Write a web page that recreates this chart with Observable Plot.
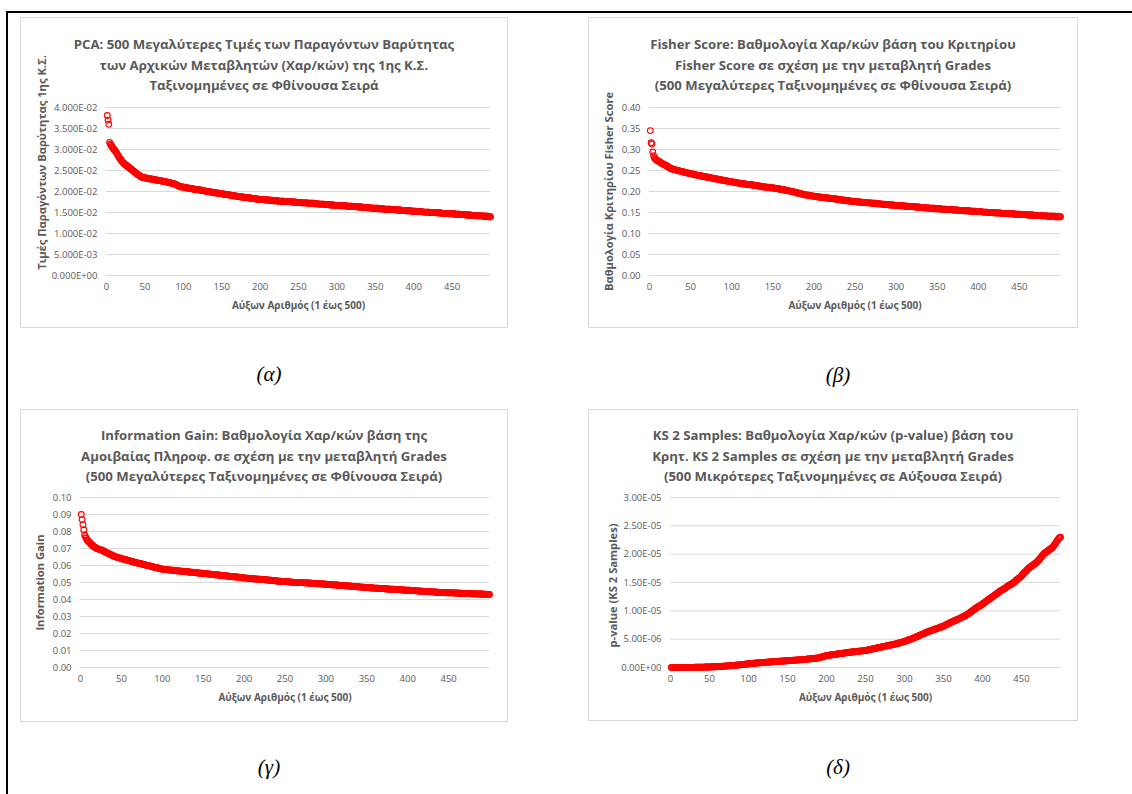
<!DOCTYPE html>
<html><head><meta charset="utf-8">
<script src="https://cdn.jsdelivr.net/npm/d3@7"></script>
<script src="https://cdn.jsdelivr.net/npm/@observablehq/plot@0.6"></script>
<style>
html,body{margin:0;padding:0;background:#fff;}
#page{position:relative;width:1132px;height:794px;overflow:hidden;font-family:"Open Sans","Noto Sans",sans-serif;}
.rule{position:absolute;background:#000;}
.panel{position:absolute;border:1px solid #d9d9d9;box-sizing:border-box;}
.title{position:absolute;text-align:center;font-weight:bold;color:#595959;font-size:13.2px;line-height:20.5px;white-space:nowrap;}
.cap{position:absolute;font-family:"Liberation Serif","Times New Roman",serif;font-style:italic;font-size:21px;color:#000;text-align:center;width:80px;line-height:24px;}
.plot{position:absolute;}
</style></head><body><div id="page"></div>
<script>
// ---------- data ----------
const xTicks = [0, 50, 100, 150, 200, 250, 300, 350, 400, 450];
const xLabel = "Αύξων Αριθμός (1 έως 500)";

const pcaTicks = [0, 0.005, 0.01, 0.015, 0.02, 0.025, 0.03, 0.035, 0.04];
const pcaTickLabels = ["0.000E+00","5.000E-03","1.000E-02","1.500E-02","2.000E-02","2.500E-02","3.000E-02","3.500E-02","4.000E-02"];
const fisherTicks = [0, 0.05, 0.10, 0.15, 0.20, 0.25, 0.30, 0.35, 0.40];
const fisherTickLabels = ["0.00","0.05","0.10","0.15","0.20","0.25","0.30","0.35","0.40"];
const igTicks = [0, 0.01, 0.02, 0.03, 0.04, 0.05, 0.06, 0.07, 0.08, 0.09, 0.10];
const igTickLabels = ["0.00","0.01","0.02","0.03","0.04","0.05","0.06","0.07","0.08","0.09","0.10"];
const ksTicks = [0, 5e-6, 1e-5, 1.5e-5, 2e-5, 2.5e-5, 3e-5];
const ksTickLabels = ["0.00E+00","5.00E-06","1.00E-05","1.50E-05","2.00E-05","2.50E-05","3.00E-05"];

const pcaTitle = ["PCA: 500 Μεγαλύτερες Τιμές των Παραγόντων Βαρύτητας", "των Αρχικών Μεταβλητών (Χαρ/κών) της 1ης Κ.Σ.", "Ταξινομημένες σε Φθίνουσα Σειρά"];
const fisherTitle = ["Fisher Score: Βαθμολογία Χαρ/κών βάση του Κριτηρίου", "Fisher Score σε σχέση με την μεταβλητή Grades", "(500 Μεγαλύτερες Ταξινομημένες σε Φθίνουσα Σειρά)"];
const igTitle = ["Information Gain: Βαθμολογία Χαρ/κών βάση της", "Αμοιβαίας Πληροφ. σε σχέση με την μεταβλητή Grades", "(500 Μεγαλύτερες Ταξινομημένες σε Φθίνουσα Σειρά)"];
const ksTitle = ["KS 2 Samples: Βαθμολογία Χαρ/κών (p-value) βάση του", "Κρητ. KS 2 Samples σε σχέση με την μεταβλητή Grades", "(500 Μικρότερες Ταξινομημένες σε Αύξουσα Σειρά)"];
const yLabels = ["Τιμές Παραγόντων Βαρύτητας 1ης Κ.Σ.", "Βαθμολογία Κριτηρίου Fisher Score", "Information Gain", "p-value (KS 2 Samples)"];
const captions = ["(α)", "(β)", "(γ)", "(δ)"];

// values for index 1..500
const pcaValues = [
0.0381,0.0370,0.0360,0.0317,0.0313,0.0310,0.0307,0.0304,0.0302,0.0300,
0.0297,0.0295,0.0292,0.0289,0.0286,0.0283,0.0280,0.0277,0.0275,0.0272,
0.0270,0.0268,0.0266,0.0265,0.0263,0.0262,0.0260,0.0259,0.0258,0.0256,
0.0255,0.0253,0.0252,0.0250,0.0249,0.0247,0.0246,0.0244,0.0243,0.0241,
0.0240,0.0239,0.0238,0.0236,0.0235,0.0234,0.0234,0.0233,0.0233,0.0232,
0.0232,0.0232,0.0231,0.0231,0.0231,0.0230,0.0230,0.0230,0.0229,0.0229,
0.0229,0.0228,0.0228,0.0228,0.0227,0.0227,0.0227,0.0226,0.0226,0.0226,
0.0225,0.0225,0.0225,0.0224,0.0224,0.0224,0.0223,0.0223,0.0222,0.0222,
0.0222,0.0221,0.0221,0.0220,0.0220,0.0219,0.0219,0.0218,0.0218,0.0217,
0.0216,0.0215,0.0214,0.0213,0.0212,0.0212,0.0211,0.0211,0.0211,0.0210,
0.0210,0.0210,0.0209,0.0209,0.0209,0.0208,0.0208,0.0208,0.0207,0.0207,
0.0207,0.0206,0.0206,0.0206,0.0205,0.0205,0.0205,0.0205,0.0204,0.0204,
0.0204,0.0203,0.0203,0.0203,0.0202,0.0202,0.0202,0.0201,0.0201,0.0201,
0.0200,0.0200,0.0200,0.0199,0.0199,0.0199,0.0199,0.0198,0.0198,0.0198,
0.0197,0.0197,0.0197,0.0196,0.0196,0.0196,0.0196,0.0195,0.0195,0.0195,
0.0194,0.0194,0.0194,0.0193,0.0193,0.0193,0.0193,0.0192,0.0192,0.0192,
0.0191,0.0191,0.0191,0.0190,0.0190,0.0190,0.0190,0.0189,0.0189,0.0189,
0.0188,0.0188,0.0188,0.0188,0.0187,0.0187,0.0187,0.0187,0.0186,0.0186,
0.0186,0.0186,0.0185,0.0185,0.0185,0.0185,0.0184,0.0184,0.0184,0.0184,
0.0183,0.0183,0.0183,0.0182,0.0182,0.0182,0.0182,0.0181,0.0181,0.0181,
0.0181,0.0181,0.0181,0.0181,0.0181,0.0180,0.0180,0.0180,0.0180,0.0180,
0.0180,0.0179,0.0179,0.0179,0.0179,0.0179,0.0178,0.0178,0.0178,0.0178,
0.0178,0.0178,0.0178,0.0177,0.0177,0.0177,0.0177,0.0177,0.0177,0.0177,
0.0177,0.0176,0.0176,0.0176,0.0176,0.0176,0.0176,0.0176,0.0176,0.0176,
0.0175,0.0175,0.0175,0.0175,0.0175,0.0175,0.0174,0.0174,0.0174,0.0174,
0.0174,0.0174,0.0174,0.0173,0.0173,0.0173,0.0173,0.0173,0.0173,0.0173,
0.0173,0.0172,0.0172,0.0172,0.0172,0.0172,0.0172,0.0172,0.0172,0.0172,
0.0171,0.0171,0.0171,0.0171,0.0171,0.0170,0.0170,0.0170,0.0170,0.0170,
0.0170,0.0170,0.0170,0.0169,0.0169,0.0169,0.0169,0.0169,0.0169,0.0169,
0.0168,0.0168,0.0168,0.0168,0.0168,0.0168,0.0167,0.0167,0.0167,0.0167,
0.0167,0.0167,0.0167,0.0167,0.0166,0.0166,0.0166,0.0166,0.0166,0.0166,
0.0166,0.0166,0.0165,0.0165,0.0165,0.0165,0.0165,0.0165,0.0165,0.0165,
0.0164,0.0164,0.0164,0.0164,0.0164,0.0164,0.0163,0.0163,0.0163,0.0163,
0.0163,0.0163,0.0163,0.0162,0.0162,0.0162,0.0162,0.0162,0.0162,0.0162,
0.0161,0.0161,0.0161,0.0161,0.0161,0.0160,0.0160,0.0160,0.0160,0.0160,
0.0160,0.0160,0.0160,0.0159,0.0159,0.0159,0.0159,0.0159,0.0159,0.0159,
0.0158,0.0158,0.0158,0.0158,0.0158,0.0158,0.0158,0.0158,0.0158,0.0158,
0.0157,0.0157,0.0157,0.0157,0.0157,0.0157,0.0156,0.0156,0.0156,0.0156,
0.0156,0.0156,0.0156,0.0155,0.0155,0.0155,0.0155,0.0155,0.0155,0.0155,
0.0154,0.0154,0.0154,0.0154,0.0154,0.0154,0.0153,0.0153,0.0153,0.0153,
0.0153,0.0153,0.0153,0.0152,0.0152,0.0152,0.0152,0.0152,0.0152,0.0152,
0.0152,0.0151,0.0151,0.0151,0.0151,0.0151,0.0151,0.0151,0.0151,0.0151,
0.0150,0.0150,0.0150,0.0150,0.0150,0.0150,0.0150,0.0150,0.0150,0.0150,
0.0149,0.0149,0.0149,0.0149,0.0149,0.0149,0.0148,0.0148,0.0148,0.0148,
0.0148,0.0148,0.0148,0.0148,0.0148,0.0147,0.0147,0.0147,0.0147,0.0147,
0.0147,0.0147,0.0147,0.0146,0.0146,0.0146,0.0146,0.0146,0.0146,0.0146,
0.0145,0.0145,0.0145,0.0145,0.0145,0.0145,0.0145,0.0144,0.0144,0.0144,
0.0144,0.0144,0.0144,0.0144,0.0143,0.0143,0.0143,0.0143,0.0143,0.0143,
0.0143,0.0142,0.0142,0.0142,0.0142,0.0142,0.0142,0.0142,0.0142,0.0142,
0.0141,0.0141,0.0141,0.0141,0.0141,0.0141,0.0140,0.0140,0.0140,0.0140
];

const fisherValues = [
0.345,0.316,0.313,0.294,0.285,0.280,0.278,0.276,0.274,0.273,
0.272,0.271,0.270,0.268,0.267,0.266,0.265,0.264,0.263,0.262,
0.261,0.260,0.258,0.257,0.256,0.255,0.254,0.253,0.253,0.252,
0.252,0.251,0.251,0.250,0.250,0.249,0.249,0.248,0.248,0.247,
0.247,0.246,0.246,0.245,0.245,0.244,0.244,0.243,0.243,0.242,
0.242,0.242,0.241,0.241,0.240,0.240,0.239,0.239,0.238,0.238,
0.238,0.237,0.237,0.237,0.236,0.236,0.235,0.235,0.235,0.234,
0.234,0.233,0.233,0.233,0.232,0.232,0.231,0.231,0.231,0.230,
0.230,0.230,0.229,0.229,0.228,0.228,0.228,0.227,0.227,0.227,
0.226,0.226,0.226,0.225,0.225,0.224,0.224,0.224,0.223,0.223,
0.223,0.222,0.222,0.222,0.221,0.221,0.221,0.220,0.220,0.220,
0.219,0.219,0.219,0.218,0.218,0.218,0.218,0.217,0.217,0.217,
0.217,0.216,0.216,0.216,0.216,0.215,0.215,0.215,0.214,0.214,
0.214,0.213,0.213,0.213,0.212,0.212,0.212,0.211,0.211,0.211,
0.211,0.210,0.210,0.210,0.210,0.209,0.209,0.209,0.209,0.209,
0.208,0.208,0.208,0.207,0.207,0.207,0.206,0.206,0.206,0.205,
0.205,0.205,0.204,0.204,0.203,0.203,0.203,0.202,0.202,0.201,
0.201,0.201,0.200,0.200,0.199,0.199,0.198,0.198,0.197,0.197,
0.196,0.196,0.195,0.195,0.194,0.194,0.193,0.193,0.192,0.192,
0.192,0.191,0.191,0.191,0.190,0.190,0.190,0.189,0.189,0.189,
0.189,0.188,0.188,0.188,0.187,0.187,0.187,0.187,0.186,0.186,
0.186,0.186,0.185,0.185,0.185,0.185,0.184,0.184,0.184,0.184,
0.183,0.183,0.183,0.183,0.182,0.182,0.182,0.182,0.181,0.181,
0.181,0.180,0.180,0.180,0.180,0.179,0.179,0.179,0.179,0.178,
0.178,0.178,0.178,0.177,0.177,0.177,0.177,0.176,0.176,0.176,
0.176,0.176,0.175,0.175,0.175,0.175,0.175,0.174,0.174,0.174,
0.174,0.174,0.174,0.173,0.173,0.173,0.173,0.173,0.173,0.172,
0.172,0.172,0.172,0.172,0.172,0.171,0.171,0.171,0.171,0.171,
0.170,0.170,0.170,0.170,0.170,0.169,0.169,0.169,0.169,0.169,
0.169,0.168,0.168,0.168,0.168,0.168,0.168,0.167,0.167,0.167,
0.167,0.167,0.167,0.166,0.166,0.166,0.166,0.166,0.166,0.165,
0.165,0.165,0.165,0.165,0.165,0.164,0.164,0.164,0.164,0.164,
0.164,0.164,0.163,0.163,0.163,0.163,0.163,0.163,0.162,0.162,
0.162,0.162,0.162,0.162,0.161,0.161,0.161,0.161,0.161,0.161,
0.160,0.160,0.160,0.160,0.160,0.160,0.160,0.159,0.159,0.159,
0.159,0.159,0.159,0.159,0.158,0.158,0.158,0.158,0.158,0.158,
0.158,0.157,0.157,0.157,0.157,0.157,0.157,0.157,0.156,0.156,
0.156,0.156,0.156,0.156,0.156,0.155,0.155,0.155,0.155,0.155,
0.155,0.155,0.154,0.154,0.154,0.154,0.154,0.154,0.154,0.153,
0.153,0.153,0.153,0.153,0.153,0.153,0.152,0.152,0.152,0.152,
0.152,0.152,0.152,0.152,0.151,0.151,0.151,0.151,0.151,0.151,
0.151,0.150,0.150,0.150,0.150,0.150,0.150,0.150,0.150,0.149,
0.149,0.149,0.149,0.149,0.149,0.149,0.149,0.148,0.148,0.148,
0.148,0.148,0.148,0.148,0.148,0.147,0.147,0.147,0.147,0.147,
0.147,0.147,0.147,0.146,0.146,0.146,0.146,0.146,0.146,0.146,
0.146,0.145,0.145,0.145,0.145,0.145,0.145,0.145,0.145,0.144,
0.144,0.144,0.144,0.144,0.144,0.144,0.144,0.143,0.143,0.143,
0.143,0.143,0.143,0.143,0.143,0.142,0.142,0.142,0.142,0.142,
0.142,0.142,0.142,0.141,0.141,0.141,0.141,0.141,0.141,0.141,
0.141,0.141,0.140,0.140,0.140,0.140,0.140,0.140,0.140,0.140
];

const igValues = [
0.0900,0.0870,0.0840,0.0810,0.0780,0.0770,0.0760,0.0750,0.0745,0.0740,
0.0735,0.0730,0.0726,0.0722,0.0715,0.0712,0.0709,0.0706,0.0703,0.0700,
0.0698,0.0697,0.0695,0.0694,0.0692,0.0690,0.0688,0.0686,0.0683,0.0680,
0.0678,0.0675,0.0673,0.0671,0.0668,0.0666,0.0664,0.0662,0.0659,0.0657,
0.0655,0.0653,0.0651,0.0650,0.0648,0.0647,0.0645,0.0644,0.0642,0.0640,
0.0639,0.0638,0.0637,0.0635,0.0634,0.0633,0.0632,0.0630,0.0629,0.0627,
0.0626,0.0625,0.0623,0.0622,0.0621,0.0620,0.0618,0.0617,0.0616,0.0614,
0.0613,0.0612,0.0611,0.0610,0.0609,0.0607,0.0606,0.0605,0.0604,0.0602,
0.0601,0.0600,0.0599,0.0598,0.0597,0.0596,0.0594,0.0593,0.0592,0.0590,
0.0589,0.0588,0.0587,0.0586,0.0585,0.0584,0.0582,0.0581,0.0580,0.0578,
0.0578,0.0577,0.0577,0.0576,0.0576,0.0575,0.0575,0.0574,0.0574,0.0573,
0.0573,0.0572,0.0572,0.0571,0.0571,0.0570,0.0570,0.0569,0.0569,0.0568,
0.0568,0.0567,0.0567,0.0566,0.0565,0.0565,0.0565,0.0564,0.0564,0.0563,
0.0563,0.0562,0.0562,0.0561,0.0561,0.0560,0.0560,0.0559,0.0559,0.0558,
0.0558,0.0557,0.0557,0.0556,0.0556,0.0555,0.0555,0.0554,0.0554,0.0553,
0.0553,0.0552,0.0552,0.0551,0.0551,0.0550,0.0550,0.0549,0.0549,0.0548,
0.0548,0.0547,0.0547,0.0546,0.0546,0.0545,0.0545,0.0544,0.0544,0.0543,
0.0543,0.0542,0.0542,0.0541,0.0540,0.0540,0.0539,0.0539,0.0538,0.0538,
0.0537,0.0537,0.0536,0.0536,0.0535,0.0535,0.0534,0.0534,0.0533,0.0533,
0.0532,0.0532,0.0531,0.0531,0.0530,0.0530,0.0529,0.0528,0.0528,0.0527,
0.0527,0.0526,0.0526,0.0525,0.0525,0.0524,0.0524,0.0523,0.0523,0.0523,
0.0522,0.0522,0.0521,0.0521,0.0521,0.0520,0.0520,0.0519,0.0519,0.0519,
0.0518,0.0518,0.0518,0.0517,0.0517,0.0516,0.0516,0.0515,0.0515,0.0514,
0.0514,0.0513,0.0513,0.0512,0.0512,0.0511,0.0511,0.0510,0.0510,0.0509,
0.0509,0.0508,0.0508,0.0507,0.0507,0.0506,0.0506,0.0506,0.0505,0.0505,
0.0505,0.0504,0.0504,0.0504,0.0503,0.0503,0.0503,0.0502,0.0502,0.0502,
0.0501,0.0501,0.0501,0.0501,0.0500,0.0500,0.0500,0.0500,0.0499,0.0499,
0.0499,0.0499,0.0498,0.0498,0.0498,0.0498,0.0497,0.0497,0.0497,0.0497,
0.0496,0.0496,0.0496,0.0495,0.0495,0.0495,0.0494,0.0494,0.0494,0.0493,
0.0493,0.0493,0.0492,0.0492,0.0492,0.0491,0.0491,0.0491,0.0490,0.0490,
0.0490,0.0489,0.0489,0.0489,0.0488,0.0488,0.0487,0.0487,0.0487,0.0486,
0.0486,0.0486,0.0485,0.0485,0.0484,0.0484,0.0484,0.0483,0.0483,0.0483,
0.0482,0.0482,0.0481,0.0481,0.0480,0.0480,0.0480,0.0479,0.0479,0.0478,
0.0478,0.0478,0.0477,0.0477,0.0476,0.0476,0.0476,0.0475,0.0475,0.0474,
0.0474,0.0474,0.0473,0.0473,0.0472,0.0472,0.0472,0.0471,0.0471,0.0470,
0.0470,0.0470,0.0469,0.0469,0.0469,0.0468,0.0468,0.0468,0.0467,0.0467,
0.0467,0.0466,0.0466,0.0466,0.0465,0.0465,0.0465,0.0464,0.0464,0.0464,
0.0464,0.0463,0.0463,0.0463,0.0462,0.0462,0.0462,0.0461,0.0461,0.0461,
0.0460,0.0460,0.0460,0.0459,0.0459,0.0459,0.0458,0.0458,0.0458,0.0457,
0.0457,0.0457,0.0456,0.0456,0.0456,0.0456,0.0455,0.0455,0.0455,0.0455,
0.0454,0.0454,0.0454,0.0453,0.0453,0.0453,0.0452,0.0452,0.0452,0.0451,
0.0451,0.0451,0.0450,0.0450,0.0450,0.0449,0.0449,0.0449,0.0449,0.0448,
0.0448,0.0448,0.0447,0.0447,0.0447,0.0446,0.0446,0.0446,0.0445,0.0445,
0.0445,0.0444,0.0444,0.0444,0.0443,0.0443,0.0443,0.0443,0.0442,0.0442,
0.0442,0.0442,0.0441,0.0441,0.0441,0.0441,0.0440,0.0440,0.0440,0.0440,
0.0440,0.0439,0.0439,0.0439,0.0439,0.0439,0.0438,0.0438,0.0438,0.0438,
0.0438,0.0437,0.0437,0.0437,0.0437,0.0437,0.0436,0.0436,0.0436,0.0436,
0.0436,0.0435,0.0435,0.0435,0.0435,0.0435,0.0434,0.0434,0.0434,0.0434,
0.0434,0.0433,0.0433,0.0433,0.0433,0.0433,0.0432,0.0432,0.0432,0.0432,
0.0432,0.0431,0.0431,0.0431,0.0431,0.0431,0.0430,0.0430,0.0430,0.0430
];

const ksValues = [
0.01e-6,0.01e-6,0.01e-6,0.01e-6,0.01e-6,0.01e-6,0.01e-6,0.01e-6,0.01e-6,0.01e-6,
0.01e-6,0.01e-6,0.01e-6,0.01e-6,0.01e-6,0.02e-6,0.02e-6,0.02e-6,0.02e-6,0.02e-6,
0.02e-6,0.02e-6,0.02e-6,0.02e-6,0.03e-6,0.03e-6,0.03e-6,0.03e-6,0.03e-6,0.03e-6,
0.04e-6,0.04e-6,0.04e-6,0.04e-6,0.05e-6,0.05e-6,0.05e-6,0.06e-6,0.06e-6,0.06e-6,
0.07e-6,0.07e-6,0.07e-6,0.08e-6,0.08e-6,0.08e-6,0.09e-6,0.09e-6,0.10e-6,0.10e-6,
0.10e-6,0.11e-6,0.11e-6,0.12e-6,0.12e-6,0.13e-6,0.13e-6,0.14e-6,0.14e-6,0.15e-6,
0.16e-6,0.17e-6,0.18e-6,0.19e-6,0.20e-6,0.21e-6,0.22e-6,0.23e-6,0.24e-6,0.25e-6,
0.26e-6,0.27e-6,0.28e-6,0.29e-6,0.30e-6,0.31e-6,0.32e-6,0.33e-6,0.34e-6,0.35e-6,
0.36e-6,0.38e-6,0.39e-6,0.41e-6,0.42e-6,0.44e-6,0.45e-6,0.47e-6,0.48e-6,0.50e-6,
0.51e-6,0.53e-6,0.54e-6,0.56e-6,0.57e-6,0.59e-6,0.60e-6,0.62e-6,0.63e-6,0.65e-6,
0.66e-6,0.68e-6,0.69e-6,0.71e-6,0.72e-6,0.74e-6,0.75e-6,0.77e-6,0.78e-6,0.80e-6,
0.81e-6,0.82e-6,0.83e-6,0.84e-6,0.85e-6,0.86e-6,0.87e-6,0.88e-6,0.89e-6,0.90e-6,
0.91e-6,0.92e-6,0.93e-6,0.94e-6,0.95e-6,0.96e-6,0.97e-6,0.98e-6,0.99e-6,1.00e-6,
1.01e-6,1.02e-6,1.03e-6,1.04e-6,1.05e-6,1.06e-6,1.07e-6,1.08e-6,1.09e-6,1.10e-6,
1.11e-6,1.12e-6,1.13e-6,1.14e-6,1.15e-6,1.16e-6,1.17e-6,1.18e-6,1.19e-6,1.20e-6,
1.21e-6,1.22e-6,1.23e-6,1.24e-6,1.25e-6,1.26e-6,1.27e-6,1.28e-6,1.29e-6,1.30e-6,
1.31e-6,1.32e-6,1.33e-6,1.34e-6,1.35e-6,1.36e-6,1.37e-6,1.38e-6,1.39e-6,1.40e-6,
1.41e-6,1.43e-6,1.44e-6,1.46e-6,1.47e-6,1.49e-6,1.50e-6,1.52e-6,1.53e-6,1.55e-6,
1.56e-6,1.57e-6,1.59e-6,1.60e-6,1.62e-6,1.63e-6,1.65e-6,1.66e-6,1.68e-6,1.70e-6,
1.74e-6,1.78e-6,1.82e-6,1.86e-6,1.90e-6,1.94e-6,1.98e-6,2.02e-6,2.06e-6,2.10e-6,
2.12e-6,2.14e-6,2.16e-6,2.18e-6,2.20e-6,2.22e-6,2.24e-6,2.26e-6,2.28e-6,2.30e-6,
2.32e-6,2.34e-6,2.36e-6,2.38e-6,2.40e-6,2.42e-6,2.44e-6,2.46e-6,2.48e-6,2.50e-6,
2.52e-6,2.54e-6,2.56e-6,2.58e-6,2.60e-6,2.62e-6,2.64e-6,2.66e-6,2.68e-6,2.70e-6,
2.71e-6,2.73e-6,2.74e-6,2.76e-6,2.77e-6,2.79e-6,2.80e-6,2.82e-6,2.83e-6,2.85e-6,
2.86e-6,2.88e-6,2.89e-6,2.91e-6,2.92e-6,2.94e-6,2.95e-6,2.97e-6,2.98e-6,3.00e-6,
3.03e-6,3.06e-6,3.09e-6,3.12e-6,3.15e-6,3.18e-6,3.21e-6,3.24e-6,3.27e-6,3.30e-6,
3.33e-6,3.36e-6,3.39e-6,3.42e-6,3.45e-6,3.48e-6,3.51e-6,3.54e-6,3.57e-6,3.60e-6,
3.63e-6,3.66e-6,3.69e-6,3.72e-6,3.75e-6,3.78e-6,3.81e-6,3.84e-6,3.87e-6,3.90e-6,
3.93e-6,3.96e-6,3.99e-6,4.02e-6,4.05e-6,4.08e-6,4.11e-6,4.14e-6,4.17e-6,4.20e-6,
4.24e-6,4.28e-6,4.32e-6,4.36e-6,4.40e-6,4.44e-6,4.48e-6,4.52e-6,4.56e-6,4.60e-6,
4.65e-6,4.70e-6,4.75e-6,4.80e-6,4.85e-6,4.90e-6,4.95e-6,5.00e-6,5.05e-6,5.10e-6,
5.16e-6,5.22e-6,5.28e-6,5.34e-6,5.40e-6,5.46e-6,5.52e-6,5.58e-6,5.64e-6,5.70e-6,
5.76e-6,5.82e-6,5.88e-6,5.94e-6,6.00e-6,6.06e-6,6.12e-6,6.18e-6,6.24e-6,6.30e-6,
6.35e-6,6.40e-6,6.45e-6,6.50e-6,6.55e-6,6.60e-6,6.65e-6,6.70e-6,6.75e-6,6.80e-6,
6.85e-6,6.90e-6,6.95e-6,7.00e-6,7.05e-6,7.10e-6,7.15e-6,7.20e-6,7.25e-6,7.30e-6,
7.37e-6,7.44e-6,7.51e-6,7.58e-6,7.65e-6,7.72e-6,7.79e-6,7.86e-6,7.93e-6,8.00e-6,
8.06e-6,8.12e-6,8.18e-6,8.24e-6,8.30e-6,8.36e-6,8.42e-6,8.48e-6,8.54e-6,8.60e-6,
8.67e-6,8.74e-6,8.81e-6,8.88e-6,8.95e-6,9.02e-6,9.09e-6,9.16e-6,9.23e-6,9.30e-6,
9.40e-6,9.50e-6,9.60e-6,9.70e-6,9.80e-6,9.90e-6,10.0e-6,10.1e-6,10.2e-6,10.3e-6,
10.4e-6,10.5e-6,10.6e-6,10.7e-6,10.8e-6,10.8e-6,10.9e-6,11.0e-6,11.1e-6,11.2e-6,
11.3e-6,11.4e-6,11.5e-6,11.6e-6,11.7e-6,11.8e-6,11.9e-6,12.0e-6,12.1e-6,12.2e-6,
12.3e-6,12.4e-6,12.5e-6,12.6e-6,12.7e-6,12.8e-6,12.9e-6,13.0e-6,13.1e-6,13.2e-6,
13.3e-6,13.4e-6,13.5e-6,13.6e-6,13.7e-6,13.7e-6,13.8e-6,13.9e-6,14.0e-6,14.1e-6,
14.2e-6,14.3e-6,14.4e-6,14.5e-6,14.6e-6,14.6e-6,14.7e-6,14.8e-6,14.9e-6,15.0e-6,
15.1e-6,15.2e-6,15.4e-6,15.5e-6,15.6e-6,15.7e-6,15.8e-6,15.9e-6,16.0e-6,16.2e-6,
16.3e-6,16.5e-6,16.6e-6,16.8e-6,16.9e-6,17.0e-6,17.2e-6,17.3e-6,17.5e-6,17.6e-6,
17.7e-6,17.8e-6,17.9e-6,18.0e-6,18.1e-6,18.2e-6,18.3e-6,18.4e-6,18.5e-6,18.6e-6,
18.8e-6,18.9e-6,19.1e-6,19.3e-6,19.4e-6,19.6e-6,19.8e-6,19.9e-6,20.1e-6,20.2e-6,
20.3e-6,20.4e-6,20.5e-6,20.6e-6,20.7e-6,20.8e-6,20.9e-6,21.0e-6,21.1e-6,21.2e-6,
21.4e-6,21.6e-6,21.8e-6,22.0e-6,22.2e-6,22.4e-6,22.6e-6,22.8e-6,22.9e-6,23.0e-6
];

// ---------- layout ----------
const panels = [
  {values: pcaValues, ticks: pcaTicks, tickLabels: pcaTickLabels, title: pcaTitle, yLabel: yLabels[0], caption: captions[0],
   box: [20, 17, 508, 328], plot: [106, 107, 490, 275], baseline: 49, yLabelPos: [42, 162], cap: [269, 374]},
  {values: fisherValues, ticks: fisherTicks, tickLabels: fisherTickLabels, title: fisherTitle, yLabel: yLabels[1], caption: captions[1],
   box: [588, 17, 1078, 328], plot: [649, 107, 1060, 275], baseline: 49, yLabelPos: [609, 191], cap: [838, 375]},
  {values: igValues, ticks: igTicks, tickLabels: igTickLabels, title: igTitle, yLabel: yLabels[2], caption: captions[2],
   box: [20, 409, 508, 722], plot: [80, 497, 489, 667], baseline: 440, yLabelPos: [40, 582], cap: [269, 767]},
  {values: ksValues, ticks: ksTicks, tickLabels: ksTickLabels, title: ksTitle, yLabel: yLabels[3], caption: captions[3],
   box: [588, 409, 1078, 721], plot: [670, 497, 1060, 667], baseline: 440, yLabelPos: [613, 585], cap: [838, 767]}
];

const page = document.getElementById("page");
function el(cls, css, html) {
  const d = document.createElement("div");
  d.className = cls;
  Object.assign(d.style, css);
  if (html != null) d.innerHTML = html;
  page.appendChild(d);
  return d;
}

el("rule", {left: "6px", top: "11px", width: "1126px", height: "2px"});
el("rule", {left: "6px", top: "11px", width: "2px", height: "783px"});

const gray = "#595959";
for (const p of panels) {
  const [bl, bt, br, bb] = p.box;
  const [pl, pt, pr, pb] = p.plot;
  el("panel", {left: bl + "px", top: bt + "px", width: (br - bl) + "px", height: (bb - bt) + "px"});
  el("title", {left: bl + "px", top: (p.baseline - 15) + "px", width: (br - bl) + "px"}, p.title.join("<br>"));
  el("cap", {left: (p.cap[0] - 40) + "px", top: (p.cap[1] - 12) + "px"}, p.caption);

  const svgTop = pt - 12;
  const width = br - bl, height = bb - svgTop;
  const fmt = d => p.tickLabels[p.ticks.indexOf(d)];
  const chart = Plot.plot({
    width, height,
    marginLeft: pl - bl, marginRight: br - pr, marginTop: pt - svgTop, marginBottom: bb - pb,
    x: {domain: [0, 500]},
    y: {domain: [0, p.ticks[p.ticks.length - 1]]},
    style: {fontFamily: "'Open Sans','Noto Sans',sans-serif", fontSize: "9.5px", color: gray, background: "none", overflow: "visible"},
    marks: [
      Plot.gridY(p.ticks, {stroke: "#d9d9d9", strokeOpacity: 1, strokeWidth: 1}),
      Plot.axisY(p.ticks, {tickSize: 0, tickPadding: 9, tickFormat: fmt, label: null, fill: gray, fontSize: 9.5}),
      Plot.axisX(xTicks, {tickSize: 0, tickPadding: 8, tickFormat: d => String(d), label: null, fill: gray, fontSize: 9.5}),
      Plot.dot(p.values, {x: (d, i) => i + 1, y: d => d, r: 2.9, stroke: "#ff0000", strokeWidth: 1.1, fill: "none"}),
      Plot.text([xLabel], {text: d => d, frameAnchor: "bottom", dy: 33, fontWeight: "bold", fontSize: 10, fill: gray}),
      Plot.text([p.yLabel], {text: d => d, frameAnchor: "left", textAnchor: "middle", dx: p.yLabelPos[0] - pl, dy: p.yLabelPos[1] - (pt + pb) / 2,
        rotate: -90, fontWeight: "bold", fontSize: 11.2, fill: gray})
    ]
  });
  const wrap = el("plot", {left: bl + "px", top: svgTop + "px"});
  wrap.appendChild(chart);
}
</script></body></html>
